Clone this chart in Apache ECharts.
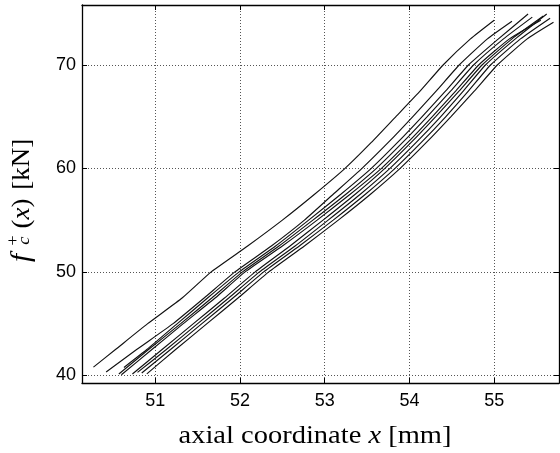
<!DOCTYPE html>
<html>
<head>
<meta charset="utf-8">
<script src="https://cdn.jsdelivr.net/npm/echarts@6/dist/echarts.min.js"></script>
<style>
  html, body { margin: 0; padding: 0; background: #fff; }
  #chart { width: 560px; height: 453px; }
</style>
</head>
<body>
<div id="chart"></div>
<script>
// Measured force curves f_c^+(x): [axial coordinate x in mm, force in kN]
const run1 = [[50.27,40.8],[50.53,42.5],[50.91,45],[51.32,47.5],[51.66,50],[52.09,52.5],[52.50,55],[52.88,57.5],[53.24,60],[53.55,62.5],[53.84,65],[54.13,67.5],[54.40,70],[54.72,72.5],[55.00,74.3]];
const run2 = [[50.42,40.33],[50.78,42.5],[51.21,45],[51.58,47.5],[51.94,50],[52.37,52.5],[52.76,55],[53.10,57.5],[53.44,60],[53.75,62.5],[54.04,65],[54.32,67.5],[54.59,70],[54.92,72.5],[55.21,74.2]];
const run3 = [[50.63,40.77],[50.90,42.5],[51.26,45],[51.62,47.5],[51.99,50],[52.42,52.5],[52.81,55],[53.19,57.5],[53.55,60],[53.86,62.5],[54.15,65],[54.43,67.5],[54.70,70],[55.05,72.5],[55.40,74.9]];
const run4 = [[50.57,40.14],[50.92,42.5],[51.30,45],[51.67,47.5],[52.03,50],[52.46,52.5],[52.86,55],[53.25,57.5],[53.61,60],[53.92,62.5],[54.21,65],[54.49,67.5],[54.76,70],[55.11,72.5],[55.45,74.6]];
const run5 = [[50.60,40.07],[50.96,42.5],[51.33,45],[51.71,47.5],[52.06,50],[52.50,52.5],[52.91,55],[53.30,57.5],[53.67,60],[53.98,62.5],[54.27,65],[54.55,67.5],[54.82,70],[55.18,72.5],[55.55,74.3]];
const run6 = [[50.73,40.14],[51.08,42.5],[51.45,45],[51.82,47.5],[52.18,50],[52.59,52.5],[52.98,55],[53.36,57.5],[53.71,60],[54.02,62.5],[54.31,65],[54.59,67.5],[54.86,70],[55.21,72.5],[55.58,74.7]];
const run7 = [[50.79,40.3],[51.13,42.5],[51.50,45],[51.87,47.5],[52.23,50],[52.65,52.5],[53.04,55],[53.42,57.5],[53.77,60],[54.08,62.5],[54.37,65],[54.64,67.5],[54.90,70],[55.25,72.5],[55.62,74.9]];
const run8 = [[50.84,40.23],[51.18,42.5],[51.55,45],[51.92,47.5],[52.28,50],[52.70,52.5],[53.10,55],[53.48,57.5],[53.83,60],[54.14,62.5],[54.43,65],[54.70,67.5],[54.96,70],[55.31,72.5],[55.66,74.5]];
const run9 = [[50.90,40.15],[51.24,42.5],[51.61,45],[51.98,47.5],[52.34,50],[52.76,52.5],[53.16,55],[53.54,57.5],[53.89,60],[54.20,62.5],[54.49,65],[54.77,67.5],[55.04,70],[55.39,72.5],[55.70,74.1]];

const runs = [run1, run2, run3, run4, run5, run6, run7, run8, run9];

// Tick labels shown on the axes
const xTickLabels = [51, 52, 53, 54, 55];
const yTickLabels = [40, 50, 60, 70];

const X_MIN = 50.135, X_MAX = 55.765;
const Y_MIN = 39.27, Y_MAX = 75.77;

const isTick = (list, v) => list.some(t => Math.abs(t - v) < 1e-6);

const frameAxis = {
  type: 'value',
  axisLine: { show: true, onZero: false, lineStyle: { color: '#000', width: 1.3 } },
  axisTick: { show: true, inside: true, length: 5, lineStyle: { color: '#000', width: 1 } },
  splitLine: { show: false },
  axisLabel: { show: false }
};

const tickFont = { fontFamily: '"Liberation Sans", Arial, sans-serif', fontSize: 18, color: '#000' };
const gridDots = { show: true, lineStyle: { color: '#555', width: 1, type: [1, 2] } };
const serif = '"Liberation Serif", "Times New Roman", serif';

const chart = echarts.init(document.getElementById('chart'), null, { renderer: 'canvas' });

chart.setOption({
  animation: false,
  backgroundColor: '#fff',
  grid: { left: 82, top: 5, width: 477, height: 378 },
  xAxis: [
    Object.assign({}, frameAxis, {
      position: 'bottom', min: X_MIN, max: X_MAX, minInterval: 1, maxInterval: 1,
      splitLine: gridDots,
      axisLabel: Object.assign({ show: true, margin: 9, showMinLabel: false, showMaxLabel: false,
        formatter: v => isTick(xTickLabels, v) ? String(Math.round(v)) : '' }, tickFont)
    }),
    Object.assign({}, frameAxis, {
      position: 'top', min: X_MIN, max: X_MAX, minInterval: 1, maxInterval: 1
    })
  ],
  yAxis: [
    Object.assign({}, frameAxis, {
      position: 'left', min: Y_MIN, max: Y_MAX, minInterval: 10, maxInterval: 10,
      splitLine: gridDots,
      axisLabel: Object.assign({ show: true, margin: 6, showMinLabel: false, showMaxLabel: false,
        formatter: v => isTick(yTickLabels, v) ? String(Math.round(v)) : '' }, tickFont)
    }),
    Object.assign({}, frameAxis, {
      position: 'right', min: Y_MIN, max: Y_MAX, minInterval: 10, maxInterval: 10
    })
  ],
  series: runs.map((d, i) => ({
    name: 'run ' + (i + 1),
    type: 'line',
    xAxisIndex: 0,
    yAxisIndex: 0,
    data: d,
    symbol: 'none',
    showSymbol: false,
    smooth: 0.15,
    lineStyle: { color: '#111', width: 1.15 },
    silent: true,
    z: 3
  })),
  graphic: [
    {
      type: 'text',
      x: 315, y: 436,
      scaleX: 1.14,
      style: {
        text: '{r|axial coordinate }{i|x}{r| [mm]}',
        align: 'center', verticalAlign: 'middle',
        fill: '#000',
        rich: {
          r: { font: '25px ' + serif, fill: '#000' },
          i: { font: 'italic 25px ' + serif, fill: '#000' }
        }
      }
    },
    {
      type: 'group',
      x: 22, y: 262,
      rotation: Math.PI / 2,
      scaleX: 1.08,
      children: [
        { type: 'text', x: 0, y: 0, style: { text: 'f', font: 'italic 27px ' + serif, fill: '#000', align: 'left', verticalAlign: 'middle' } },
        { type: 'text', x: 15, y: -8, style: { text: '+', font: '17px ' + serif, fill: '#000', align: 'left', verticalAlign: 'middle' } },
        { type: 'text', x: 16, y: 3, style: { text: 'c', font: 'italic 17px ' + serif, fill: '#000', align: 'left', verticalAlign: 'middle' } },
        { type: 'text', x: 31, y: 0, style: { text: '{r|(}{i|x}{r|)}', fill: '#000', align: 'left', verticalAlign: 'middle',
          rich: {
            r: { font: '25px ' + serif, fill: '#000' },
            i: { font: 'italic 25px ' + serif, fill: '#000' }
          } } },
        { type: 'text', x: 67, y: 0, style: { text: '[kN]', font: '25px ' + serif, fill: '#000', align: 'left', verticalAlign: 'middle' } }
      ]
    }
  ]
});
</script>
</body>
</html>
